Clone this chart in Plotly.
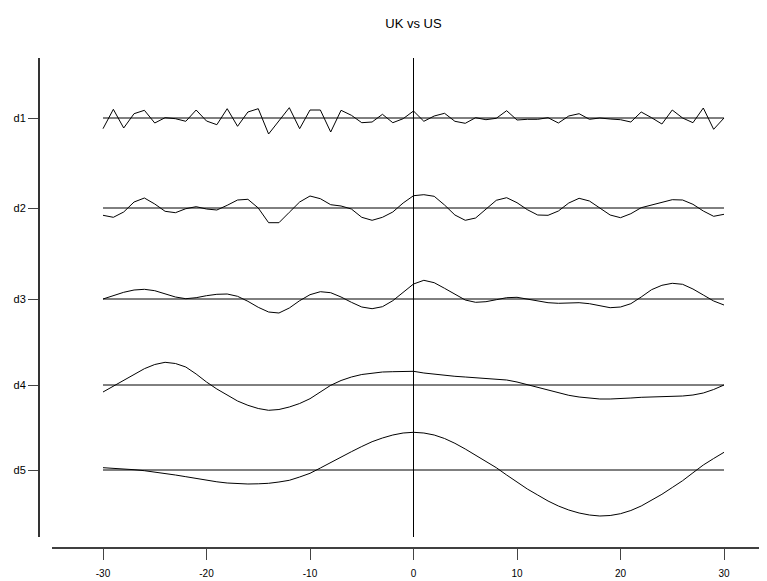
import plotly.graph_objects as go

lags = list(range(-30, 31))
level_names = ["d1", "d2", "d3", "d4", "d5"]
level_pos = [4.30, 3.40, 2.49, 1.63, 0.78]

d1 = [-0.107, 0.087, -0.100, 0.043, 0.077, -0.050, 0.003, -0.007, -0.033, 0.080,
      -0.030, -0.067, 0.093, -0.083, 0.060, 0.093, -0.160, -0.033, 0.103, -0.107,
      0.080, 0.080, -0.140, 0.077, 0.027, -0.047, -0.040, 0.037, -0.047, -0.007,
      0.070, -0.033, 0.020, 0.047, -0.033, -0.053, 0.003, -0.017, -0.003, 0.073,
      -0.020, -0.013, -0.013, 0.003, -0.050, 0.020, 0.043, -0.013, 0.000, -0.010,
      -0.017, -0.040, 0.060, 0.003, -0.060, 0.080, 0.000, -0.047, 0.100, -0.113,
      0.000]
d2 = [-0.073, -0.093, -0.040, 0.060, 0.100, 0.040, -0.033, -0.047, -0.007, 0.013,
      -0.010, -0.020, 0.027, 0.080, 0.087, 0.000, -0.147, -0.147, -0.043, 0.060,
      0.120, 0.093, 0.033, 0.020, -0.010, -0.093, -0.123, -0.093, -0.040, 0.050,
      0.123, 0.133, 0.117, 0.030, -0.070, -0.123, -0.100, -0.013, 0.077, 0.103,
      0.053, -0.017, -0.070, -0.073, -0.030, 0.050, 0.097, 0.070, -0.003, -0.070,
      -0.097, -0.057, 0.003, 0.030, 0.053, 0.083, 0.080, 0.037, -0.030, -0.083,
      -0.063]
d3 = [0.000, 0.037, 0.067, 0.090, 0.097, 0.083, 0.050, 0.020, 0.003, 0.013,
      0.033, 0.047, 0.050, 0.027, -0.023, -0.083, -0.130, -0.140, -0.090, -0.017,
      0.043, 0.073, 0.063, 0.020, -0.033, -0.080, -0.097, -0.077, -0.017, 0.070,
      0.150, 0.187, 0.163, 0.107, 0.047, -0.010, -0.033, -0.027, -0.007, 0.013,
      0.017, 0.000, -0.020, -0.037, -0.043, -0.043, -0.037, -0.047, -0.070, -0.087,
      -0.080, -0.047, 0.020, 0.093, 0.137, 0.157, 0.147, 0.100, 0.040, -0.020,
      -0.060]
d4 = [-0.070, -0.010, 0.047, 0.105, 0.163, 0.205, 0.227, 0.215, 0.180, 0.110,
      0.030, -0.040, -0.103, -0.160, -0.203, -0.235, -0.253, -0.245, -0.220, -0.185,
      -0.137, -0.070, -0.003, 0.045, 0.080, 0.105, 0.120, 0.130, 0.133, 0.137,
      0.137, 0.120, 0.107, 0.095, 0.087, 0.080, 0.073, 0.070, 0.063, 0.050,
      0.030, 0.003, -0.027, -0.055, -0.080, -0.103, -0.120, -0.133, -0.140, -0.140,
      -0.137, -0.130, -0.123, -0.120, -0.117, -0.115, -0.110, -0.100, -0.080, -0.045,
      0.000]
d5 = [0.023, 0.018, 0.013, 0.003, -0.007, -0.020, -0.033, -0.050, -0.067, -0.085,
      -0.103, -0.118, -0.130, -0.137, -0.140, -0.138, -0.133, -0.120, -0.103, -0.070,
      -0.033, 0.020, 0.077, 0.130, 0.183, 0.235, 0.283, 0.320, 0.350, 0.370,
      0.377, 0.370, 0.350, 0.315, 0.267, 0.210, 0.150, 0.087, 0.023, -0.050,
      -0.123, -0.190, -0.250, -0.310, -0.360, -0.400, -0.430, -0.450, -0.460, -0.455,
      -0.437, -0.405, -0.360, -0.305, -0.243, -0.175, -0.107, -0.028, 0.050, 0.115,
      0.177]
series = [d1, d2, d3, d4, d5]

x_ticks = [-30, -20, -10, 0, 10, 20, 30]

FONT = "Liberation Sans, Arial, sans-serif"

fig = go.Figure()
for name, pos, vals in zip(level_names, level_pos, series):
    # zero reference line for this level
    fig.add_trace(go.Scatter(x=[lags[0], lags[-1]], y=[pos, pos], mode="lines",
                             line=dict(color="black", width=1), hoverinfo="skip",
                             showlegend=False))
    fig.add_trace(go.Scatter(x=lags, y=[pos + v for v in vals], mode="lines",
                             line=dict(color="black", width=1), name=name,
                             showlegend=False))

# page body has an 8px margin; figure occupies page pixels 8..767 / 8..581
OFF = 8
W, H = 767 - OFF, 581 - OFF
ml, mr, mt, mb = 39 - OFF, 0, 58 - OFF, 33
plot_w = W - ml - mr
plot_h = H - mt - mb
px_per_lag = 10.35
x_min = -30 - (103 - 39) / px_per_lag
x_max = 30 + (767 - 724) / px_per_lag

fig.update_layout(
    width=W, height=H,
    margin=dict(l=ml, r=mr, t=mt, b=mb, pad=0),
    paper_bgcolor="white", plot_bgcolor="white",
    title=dict(text="UK vs US", x=(413.5 - OFF) / W, xanchor="center", y=1 - (23 - OFF) / H,
               yanchor="middle", font=dict(family=FONT, size=13, color="black")),
    font=dict(family=FONT, color="black"),
    xaxis=dict(range=[x_min, x_max], showgrid=False, zeroline=False, showline=False,
               tickvals=x_ticks, ticktext=[str(t) for t in x_ticks],
               ticks="outside", ticklen=11, tickwidth=1, tickcolor="#444",
               ticklabelstandoff=5,
               tickfont=dict(size=10, family=FONT, color="black")),
    yaxis=dict(range=[0, plot_h / 100.0], showgrid=False, zeroline=False, showline=False,
               tickvals=level_pos, ticktext=level_names,
               ticks="outside", ticklen=10, tickwidth=1, tickcolor="#444",
               tickfont=dict(size=11, family=FONT, color="black")),
)

bottom_frac = (548 - 537) / plot_h
# detached axis lines
fig.add_shape(type="line", xref="paper", yref="paper",
              x0=(52 - 39) / plot_w, x1=1, y0=0, y1=0,
              line=dict(color="black", width=1.6))
fig.add_shape(type="line", xref="paper", yref="paper",
              x0=0, x1=0, y0=bottom_frac, y1=1,
              line=dict(color="black", width=1.6))
# vertical line at lag 0
fig.add_shape(type="line", xref="x", yref="paper",
              x0=0, x1=0, y0=bottom_frac, y1=1,
              line=dict(color="black", width=1))

fig.write_html("out.html")
